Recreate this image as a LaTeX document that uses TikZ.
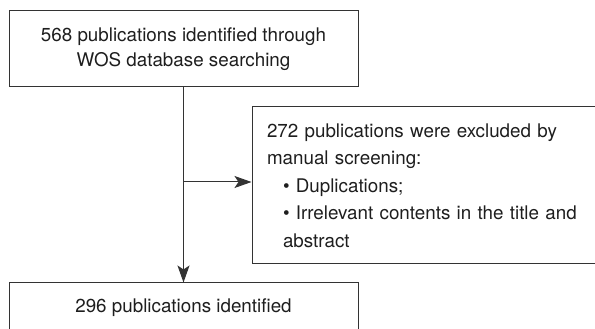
\documentclass[tikz,border=0pt]{standalone}
\usepackage{fontspec}
\setmainfont{TeX Gyre Heros}
\usetikzlibrary{arrows.meta}
\definecolor{boxline}{HTML}{333333}
\definecolor{boxtext}{HTML}{1E1E1E}

\begin{document}
\begin{tikzpicture}[x=1pt, y=1pt, line width = 1pt]
\tikzstyle{flowbox}=[rectangle, draw=boxline, text=boxtext, inner sep=0pt,
  font=\fontsize{18.8}{24.5}\selectfont];
\tikzstyle{flowarrow}=[draw=boxline, -{Stealth[length=17pt, width=12pt, inset=4pt]}];
\clip (0,0) rectangle (595,329);

\draw(183.5,280) node[flowbox, minimum width=349, minimum height=76, align=center] (Found)
  {568 publications identified through\\WOS database searching};
\draw(427,143.5) node[flowbox, minimum width=350, minimum height=157,
  text width=320, align=left, font=\fontsize{18.8}{27.5}\selectfont] (Excl)
  {272 publications were excluded by\\manual screening:\\
   \hspace*{16pt}\textbullet\ Duplications;\\
   \hspace*{16pt}\textbullet\ Irrelevant contents in the title and\\
   \hspace*{16pt}abstract};
\draw(183.5,21) node[flowbox, minimum width=349, minimum height=50] (Kept)
  {296 publications identified};

\coordinate (Split) at (Found.south |- 0,147);
\draw[flowarrow] (Found) -- (Kept);
\draw[flowarrow] (Split) -- (Split -| Excl.west);
\end{tikzpicture}
\end{document}
